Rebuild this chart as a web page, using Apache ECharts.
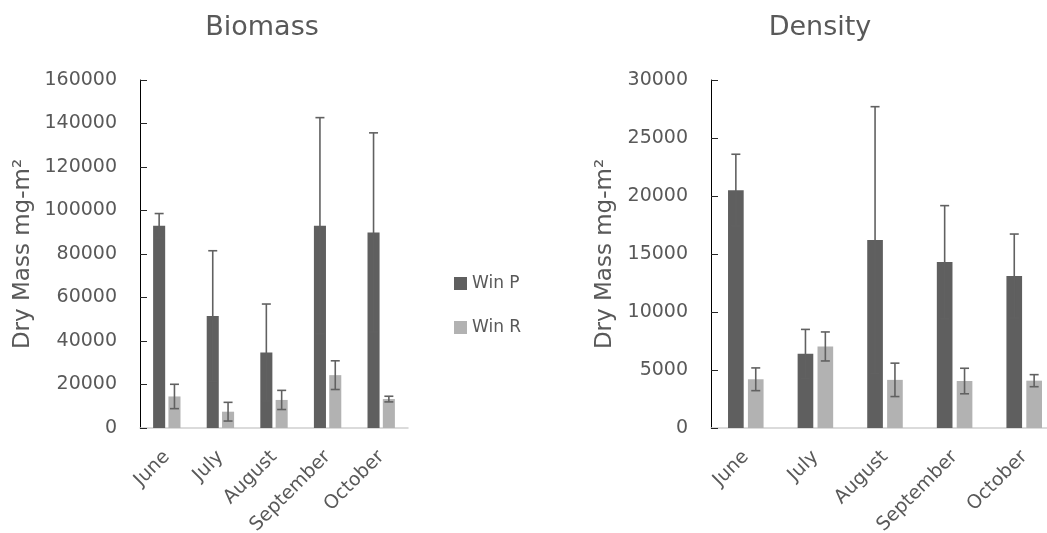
<!DOCTYPE html>
<html>
<head>
<meta charset="utf-8">
<script src="https://cdn.jsdelivr.net/npm/echarts@6/dist/echarts.min.js"></script>
<style>
  html, body { margin: 0; padding: 0; background: #fff; }
  #chart { width: 1047px; height: 533px; }
</style>
</head>
<body>
<div id="chart"></div>
<script>
// Monthly sampling periods
const months = ['June', 'July', 'August', 'September', 'October'];

// Biomass (dry mass, mg m-2): means and error magnitudes
const biomassWinP = [93000, 51500, 34700, 93000, 89900];
const biomassWinPErr = [5600, 30000, 22300, 49700, 45800];
const biomassWinR = [14500, 7500, 12900, 24300, 13300];
const biomassWinRErr = [5600, 4300, 4400, 6600, 1300];

// Density: means and error magnitudes
const densityWinP = [20500, 6400, 16200, 14300, 13100];
const densityWinPErr = [3100, 2100, 11500, 4870, 3620];
const densityWinR = [4200, 7030, 4150, 4050, 4080];
const densityWinRErr = [980, 1250, 1440, 1100, 520];

const FONT = 'DejaVu Sans';
const TEXT = '#595959';
const DARK = '#5f5f5f';
const LIGHT = '#b2b2b2';
const BAR_FRAC = 0.225;   // bar width as a share of the category band
const GAP_FRAC = 0.27;    // gap between paired bars as a share of bar width

// Error bar drawn over a bar; side = -1 for the first bar, +1 for the second
function errorBar(side) {
  return function (params, api) {
    const idx = api.value(0), v = api.value(1), e = api.value(2);
    const band = api.size([1, 0])[0];
    const bw = band * BAR_FRAC;
    const cx = api.coord([idx, v])[0] + side * (bw * (1 + GAP_FRAC)) / 2;
    const yTop = api.coord([idx, v + e])[1];
    const yBot = api.coord([idx, v - e])[1];
    const cap = 4.5;
    const style = { stroke: '#616161', lineWidth: 1.6 };
    return {
      type: 'group',
      children: [
        { type: 'line', shape: { x1: cx, y1: yTop, x2: cx, y2: yBot }, style },
        { type: 'line', shape: { x1: cx - cap, y1: yTop, x2: cx + cap, y2: yTop }, style },
        { type: 'line', shape: { x1: cx - cap, y1: yBot, x2: cx + cap, y2: yBot }, style }
      ]
    };
  };
}

function withErr(vals, errs) {
  return vals.map((v, i) => [i, v, errs[i]]);
}

function xAxis(gridIndex) {
  return {
    type: 'category', gridIndex, data: months,
    axisLine: { lineStyle: { color: '#d0d0d0', width: 1.5 } },
    axisTick: { show: false },
    axisLabel: { rotate: 45, interval: 0, margin: 26, color: TEXT, fontFamily: FONT, fontSize: 19 }
  };
}

function yAxis(gridIndex, max, interval, nameGap) {
  return {
    type: 'value', gridIndex, min: 0, max, interval,
    name: 'Dry Mass mg-m²', nameLocation: 'middle', nameGap,
    nameTextStyle: { color: TEXT, fontFamily: FONT, fontSize: 23 },
    axisLine: { show: true, lineStyle: { color: '#000', width: 1 } },
    axisTick: { show: true, inside: true, length: 7, lineStyle: { color: '#262626' } },
    splitLine: { show: false },
    axisLabel: { margin: 23, color: TEXT, fontFamily: FONT, fontSize: 19, formatter: v => String(v) }
  };
}

function bars(name, data, color, gi) {
  return {
    name, type: 'bar', data, xAxisIndex: gi, yAxisIndex: gi,
    barWidth: (BAR_FRAC * 100) + '%', barGap: (GAP_FRAC * 100) + '%',
    itemStyle: { color }, emphasis: { disabled: true }
  };
}

function errors(vals, errs, side, gi) {
  return {
    type: 'custom', xAxisIndex: gi, yAxisIndex: gi, z: 5,
    encode: { x: 0, y: 1 },
    data: withErr(vals, errs),
    renderItem: errorBar(side), silent: true
  };
}

const chart = echarts.init(document.getElementById('chart'), null, { renderer: 'canvas' });
chart.setOption({
  animation: false,
  backgroundColor: '#fff',
  title: [
    { text: 'Biomass', left: 262, top: 14, textAlign: 'center', padding: 0,
      textStyle: { color: TEXT, fontFamily: FONT, fontSize: 27, fontWeight: 'normal' } },
    { text: 'Density', left: 820, top: 14, textAlign: 'center', padding: 0,
      textStyle: { color: TEXT, fontFamily: FONT, fontSize: 27, fontWeight: 'normal' } }
  ],
  legend: {
    orient: 'vertical', left: 449, top: 270, itemWidth: 13, itemHeight: 13, itemGap: 27,
    icon: 'rect', data: ['Win P', 'Win R'],
    textStyle: { color: TEXT, fontFamily: FONT, fontSize: 17 }
  },
  grid: [
    { left: 140, right: 639, top: 80, bottom: 105, containLabel: false, outerBoundsMode: 'none' },
    { left: 711, right: -12, top: 80, bottom: 105, containLabel: false, outerBoundsMode: 'none' }
  ],
  xAxis: [xAxis(0), xAxis(1)],
  yAxis: [yAxis(0, 160000, 20000, 105), yAxis(1, 30000, 5000, 94)],
  series: [
    bars('Win P', biomassWinP, DARK, 0),
    bars('Win R', biomassWinR, LIGHT, 0),
    bars('Win P', densityWinP, DARK, 1),
    bars('Win R', densityWinR, LIGHT, 1),
    errors(biomassWinP, biomassWinPErr, -1, 0),
    errors(biomassWinR, biomassWinRErr, 1, 0),
    errors(densityWinP, densityWinPErr, -1, 1),
    errors(densityWinR, densityWinRErr, 1, 1)
  ]
});
</script>
</body>
</html>
